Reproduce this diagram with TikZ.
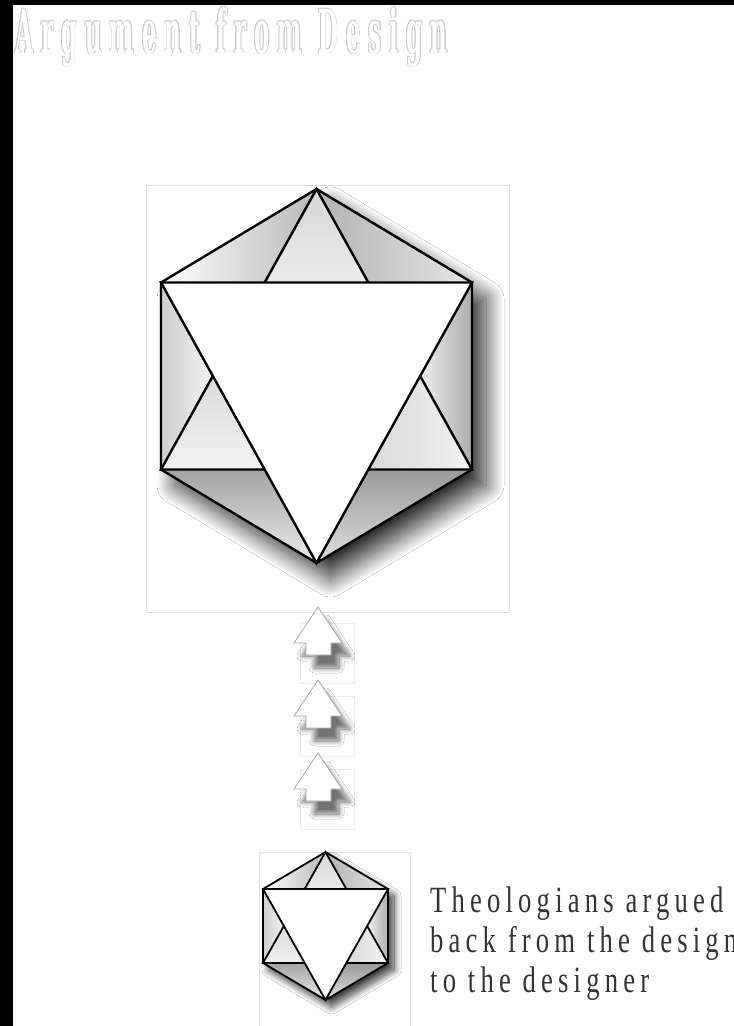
\documentclass[tikz,border=0pt]{standalone}
\usepackage{fontspec}
\usetikzlibrary{shadows.blur}
\newfontfamily\titlefont[FakeStretch=0.8, LetterSpace=28]{DejaVu Serif}
\newfontfamily\captionfont[FakeStretch=0.72, LetterSpace=14]{Liberation Serif}
\definecolor{titleline}{gray}{0.80}
\definecolor{captiontext}{gray}{0.2}

% title text, sized to the reference
\newcommand{\titlebox}{\resizebox{432pt}{46pt}{\titlefont\bfseries\fontsize{50}{60}\selectfont Argument from Design}}

% one hexagon figure, drawn in local units (hexagon of radius 1)
\newcommand{\hexfigure}[1]{%
  \coordinate (T) at (0,-1);
  \coordinate (TR) at (1,-0.5);
  \coordinate (BR) at (1,0.5);
  \coordinate (B) at (0,1);
  \coordinate (BL) at (-1,0.5);
  \coordinate (TL) at (-1,-0.5);
  \coordinate (P1) at (-1/3,-0.5);
  \coordinate (P2) at (1/3,-0.5);
  \coordinate (Q1) at (-2/3,0);
  \coordinate (Q2) at (2/3,0);
  \coordinate (R1) at (-1/3,0.5);
  \coordinate (R2) at (1/3,0.5);
  % shadow
  \fill[white, hexshadow] (T) -- (TR) -- (BR) -- (B) -- (BL) -- (TL) -- cycle;
  % facets
  \shade[left color=white, right color=gray!55] (TL) -- (T) -- (P1) -- cycle;
  \shade[top color=gray!32, bottom color=gray!15] (T) -- (P1) -- (P2) -- cycle;
  \shade[left color=gray!60, right color=gray!20] (T) -- (TR) -- (P2) -- cycle;
  \shade[left color=gray!38, right color=gray!10] (TL) -- (Q1) -- (BL) -- cycle;
  \shade[top color=gray!28, bottom color=gray!10] (BL) -- (Q1) -- (R1) -- cycle;
  \shade[top color=gray!72, bottom color=gray!15] (BL) -- (R1) -- (B) -- cycle;
  \shade[left color=gray!12, right color=gray!65] (TR) -- (Q2) -- (BR) -- cycle;
  \shade[left color=gray!30, right color=gray!10] (BR) -- (Q2) -- (R2) -- cycle;
  \shade[top color=gray!80, bottom color=gray!25] (BR) -- (R2) -- (B) -- cycle;
  % the two triangles and the hexagon
  \draw[line width=#1] (T) -- (BL) -- (BR) -- cycle;
  \filldraw[fill=white, line width=#1] (TL) -- (TR) -- (B) -- cycle;
  \draw[line width=#1] (T) -- (TR) -- (BR) -- (B) -- (BL) -- (TL) -- cycle;
}

\begin{document}
\begin{tikzpicture}[x=1pt, y=-1pt,
    panel/.style={draw=gray!25, line width=0.6pt},
    faintframe/.style={draw=gray!15, line width=0.5pt},
    caption/.style={anchor=base west, inner sep=0, text=captiontext, font=\captionfont\fontsize{37}{40}\selectfont},
    arrowblock/.style={fill=white, draw=gray!70, line width=0.8pt,
      blur shadow={shadow xshift=8pt, shadow yshift=-13pt, shadow blur radius=5pt, shadow blur steps=12, shadow opacity=55}}
]
\useasboundingbox (0,0) rectangle (734,1026);
\fill[white] (0,0) rectangle (734,1026);
\fill[black] (0,0) rectangle (734,5);
\fill[black] (0,0) rectangle (13,1026);

% title: light outline, white inside
\foreach \dx/\dy [count=\i] in {-0.8/0, 0.8/0, 0/-0.8, 0/0.8, -0.6/-0.6, 0.6/-0.6, -0.6/0.6, 0.6/0.6}{
  \node[anchor=base west, inner sep=0, text=titleline] (titleedge\i) at (15+\dx,53+\dy) {\titlebox};
}
\node[anchor=base west, inner sep=0, text=white] (title) at (15,53) {\titlebox};

% panels
\draw[panel] (146,185) rectangle (509,612);
\draw[panel] (259,852) rectangle (410,1040);

% big figure
\begin{scope}[shift={(316.5pt,-376pt)}, x=155.5pt, y=-187pt,
    hexshadow/.style={blur shadow={shadow xshift=14pt, shadow yshift=-16pt, shadow blur radius=18pt, shadow blur steps=30, shadow opacity=80}}]
  \hexfigure{2.4pt}
\end{scope}

% arrows
\foreach \ty in {607, 680, 753}{
  \draw[faintframe] (300,\ty+16) rectangle (354,\ty+76);
  \path[arrowblock] (318,\ty) -- (342,\ty+36) -- (331,\ty+36) -- (331,\ty+48)
    -- (306,\ty+48) -- (306,\ty+36) -- (294,\ty+36) -- cycle;
}

% small figure
\begin{scope}[shift={(325.5pt,-926pt)}, x=62.5pt, y=-74pt,
    hexshadow/.style={blur shadow={shadow xshift=6pt, shadow yshift=-7pt, shadow blur radius=7pt, shadow blur steps=15, shadow opacity=75}}]
  \hexfigure{1.8pt}
\end{scope}

% caption
\node[caption] (cap1) at (430,912) {Theologians argued};
\node[caption] (cap2) at (430,952) {back from the design};
\node[caption] (cap3) at (430,992) {to the designer};

\end{tikzpicture}
\end{document}
